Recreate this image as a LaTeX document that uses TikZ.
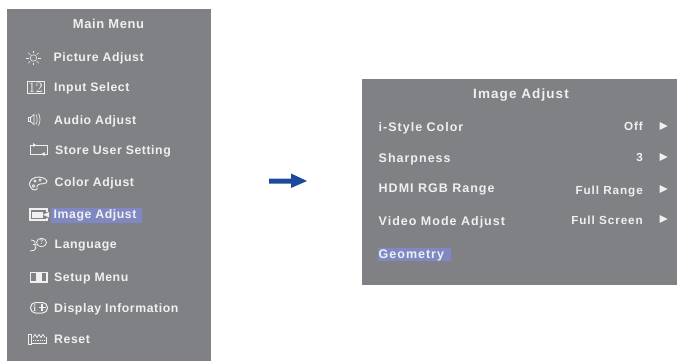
\documentclass[tikz,border=0pt]{standalone}
\usepackage{fontspec}
\newfontfamily\menufont[LetterSpace=4.5]{Liberation Sans}
\newfontfamily\subfont[LetterSpace=8]{Liberation Sans}
\definecolor{panel}{HTML}{808184}
\definecolor{hilite}{HTML}{8088C4}
\definecolor{arrowblue}{HTML}{1B4A9C}
\definecolor{ink}{HTML}{F0F0F0}
\tikzset{
  panelbox/.style={fill=panel,draw=none},
  hibox/.style={fill=hilite,draw=none},
  mitem/.style={anchor=base west,inner sep=0pt,text=ink,font=\fontsize{12.3}{14}\menufont\bfseries},
  sitem/.style={anchor=base west,inner sep=0pt,text=ink,font=\fontsize{12.5}{14}\subfont\bfseries},
  sval/.style={anchor=base east,inner sep=0pt,text=ink,font=\fontsize{11.7}{14}\subfont\bfseries},
  mtitle/.style={anchor=base,inner sep=0pt,text=ink,font=\fontsize{13}{14}\menufont\bfseries},
  stitle/.style={anchor=base,inner sep=0pt,text=ink,font=\fontsize{13.5}{14}\subfont\bfseries},
  icon/.style={draw=ink,line width=0.9pt,fill=none},
  iconfill/.style={fill=ink,draw=none},
  tri/.style={fill=ink,draw=none},
}
\begin{document}
\begin{tikzpicture}[x=1pt,y=-1pt]
\useasboundingbox (0,0) rectangle (677,361);
% panels
\fill[panelbox] (7,9) rectangle (211,361);
\fill[panelbox] (362,79) rectangle (677,285);
\fill[hibox] (51,208) rectangle (142,223);
\fill[hibox] (378,248) rectangle (451,261);
% arrow
\fill[arrowblue] (269,178.5) -- (291,178.5) -- (291,173.5) -- (307,181) -- (291,188) -- (291,183.5) -- (269,183.5) -- cycle;
% main menu
\node[mtitle] (mainT) at (108.5,29) {Main Menu};
\node[mitem] (m1) at (53.5,62) {Picture Adjust};
\node[mitem] (m2) at (54,91) {Input Select};
\node[mitem] (m3) at (54,124) {Audio Adjust};
\node[mitem] (m4) at (55,154.5) {Store User Setting};
\node[mitem] (m5) at (54.5,186) {Color Adjust};
\node[mitem] (m6) at (53.5,218) {Image Adjust};
\node[mitem] (m7) at (54.5,248) {Language};
\node[mitem] (m8) at (54,281) {Setup Menu};
\node[mitem] (m9) at (54,312) {Display Information};
\node[mitem] (m10) at (54,343) {Reset};
% sun
\draw[icon,line width=0.6pt] (33.5,58) circle (3.2);
\foreach \a in {0,45,...,315} \draw[icon,line width=0.6pt] (33.5,58) ++(\a:4.6) -- ++(\a:2.8);
% 12
\draw[icon] (27,81.5) rectangle (44,93.5);
\node[anchor=center,inner sep=0pt,text=ink,font=\fontsize{14.5}{14}\rmfamily] (i12) at (35.5,87.5) {12};
% speaker
\draw[icon,line width=0.7pt] (28,117.5) rectangle (30.5,121.5);
\draw[icon,line width=0.7pt] (30.5,117.5) -- (34,114.5) -- (34,124.5) -- (30.5,121.5);
\draw[icon,line width=0.7pt] (36,114.5) .. controls (37.5,117) and (37.5,122) .. (36,124.5);
\draw[icon,line width=0.7pt] (38.5,113.5) .. controls (40.5,117) and (40.5,122) .. (38.5,125.5);
% store
\draw[icon] (30.5,145) rectangle (47.5,154);
\fill[iconfill] (33,143) -- (36,145) -- (33,147) -- cycle;
\fill[iconfill] (44.5,152) -- (41.5,154) -- (44.5,156) -- cycle;
% palette
\draw[icon] (30.5,187) .. controls (27,181) and (34,176.5) .. (39,177) .. controls (45,177.5) and (49,181) .. (46,183) .. controls (43,184.5) and (38,183) .. (37,186) .. controls (36.5,189) and (38,190) .. (35,190) .. controls (33,190) and (31.5,189) .. (30.5,187) -- cycle;
\draw[icon,line width=0.6pt] (33.5,186) circle (1.4);
\draw[icon,line width=0.6pt] (35,181) circle (1.1);
\draw[icon,line width=0.6pt] (40,180) circle (1.1);
% image
\draw[icon,line width=1.2pt] (47,218) -- (47,220) -- (30,220) -- (30,209) -- (47,209) -- (47,211.5);
\fill[iconfill] (32,212) rectangle (43,217.5);
\fill[iconfill] (49,212) -- (43,214.75) -- (49,217.5) -- cycle;
% language
\draw[icon,line width=0.8pt] (31,240) .. controls (35,240) and (36,243) .. (35,245) .. controls (34.5,247) and (36,247) .. (36,248) .. controls (36,250) and (33,251) .. (30,251);
\draw[icon,line width=0.8pt] (33,244.5) -- (37,245);
\draw[icon,line width=0.8pt] (41.5,242.5) ellipse (5 and 4.3);
\node[anchor=center,inner sep=0pt,text=ink,font=\fontsize{7}{7}\rmfamily\bfseries] (iq) at (41.5,242.5) {?};
% setup
\draw[icon,line width=1.2pt] (30.5,272.5) rectangle (47,282);
\fill[iconfill] (36,272) rectangle (42,282.5);
% info
\draw[icon,line width=1pt,rounded corners=5pt] (30.5,302.5) rectangle (47.5,313);
\node[anchor=center,inner sep=0pt,text=ink,font=\fontsize{10}{10}\rmfamily\bfseries] (ii) at (34.7,307.7) {i};
\draw[icon,line width=1.2pt] (38.5,307.7) -- (45.5,307.7) (42,304.2) -- (42,311.2);
% reset
\draw[icon,line width=0.7pt] (28.5,334) rectangle (31,344);
\draw[icon,line width=0.7pt] (31,343.5) -- (46.5,343.5) -- (46.5,337);
\draw[icon,line width=0.7pt] (33,337.5) -- (35,334.5) -- (37,337.5) -- (39,334.5) -- (41,337.5) -- (43,334.5) -- (45,337.5);
\draw[icon,line width=1.1pt,dash pattern=on 1.2pt off 1pt] (33,340.5) -- (46,340.5);
% image adjust panel
\node[stitle] (subT) at (521,99) {Image Adjust};
\node[sitem] (s1) at (378.5,131.5) {i-Style Color};
\node[sitem] (s2) at (378.5,162) {Sharpness};
\node[sitem] (s3) at (378.5,192) {HDMI RGB Range};
\node[sitem] (s4) at (378.5,225) {Video Mode Adjust};
\node[sitem] (s5) at (378.5,258) {Geometry};
\node[sval] (v1) at (643,130) {Off};
\node[sval] (v2) at (643,161) {3};
\node[sval] (v3) at (643,194) {Full Range};
\node[sval] (v4) at (643,224) {Full Screen};
\fill[tri] (659.5,122) -- (667.5,126) -- (659.5,130) -- cycle;
\fill[tri] (659.5,153) -- (667.5,157) -- (659.5,161) -- cycle;
\fill[tri] (659.5,185) -- (667.5,189) -- (659.5,193) -- cycle;
\fill[tri] (659.5,215) -- (667.5,219) -- (659.5,223) -- cycle;
\end{tikzpicture}
\end{document}
